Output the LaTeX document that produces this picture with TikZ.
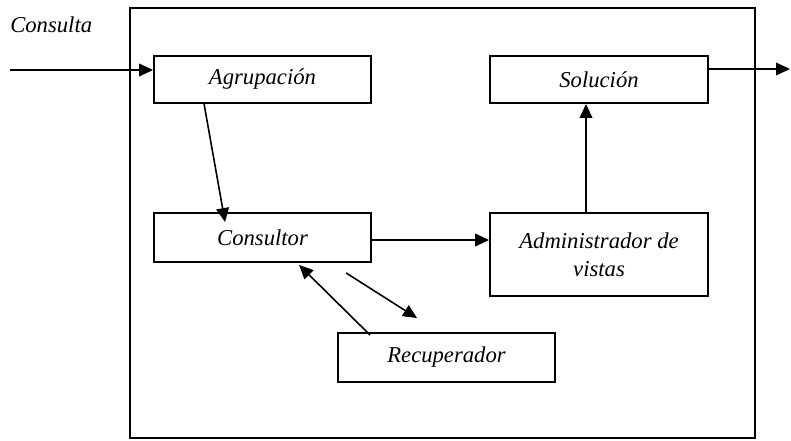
\documentclass[tikz,border=0pt]{standalone}
\usepackage{fontspec}
\setmainfont{Liberation Serif}
\usetikzlibrary{arrows.meta,calc}
\begin{document}
\begin{tikzpicture}[x=0.75pt,y=-0.75pt,
  lbl/.style={font=\fontsize{17}{21}\selectfont\itshape},
  blk/.style={draw,line width=1.4pt,rectangle,inner sep=0pt,align=center,lbl},
  conn/.style={line width=1.2pt,-{Triangle[length=10.5pt,width=9.5pt]}}]
  \useasboundingbox (0,0) rectangle (791,440);
  % system boundary
  \draw[line width=1.3pt] (130,8) rectangle (755,438);
  % components
  \node[blk,minimum width=217*0.75pt,minimum height=47*0.75pt] (agr) at (262.5,79.5) {Agrupación};
  \node[blk,minimum width=218*0.75pt,minimum height=47*0.75pt] (sol) at (599,79.5) {Solución};
  \node[blk,minimum width=217*0.75pt,minimum height=49*0.75pt] (cons) at (262.5,237.5) {Consultor};
  \node[blk,minimum width=218*0.75pt,minimum height=83*0.75pt] (adm) at (599,254.5) {Administrador de\\vistas};
  \node[blk,minimum width=217*0.75pt,minimum height=49*0.75pt] (rec) at (446.5,357.5) {Recuperador};
  % input and output
  \node[lbl,anchor=west,inner sep=0pt] (qlabel) at (10,25) {Consulta};
  \coordinate (in) at (10,70);
  \coordinate (out) at (790,69);
  \draw[conn] (in) -- (in -| agr.west);
  \draw[conn] (sol.east |- out) -- (out);
  % internal flow
  \draw[conn] ($(agr.south west)+(51,0)$) -- ($(cons.north west)+(72,10)$);
  \draw[conn] ($(cons.east)+(0,2.5)$) -- ($(adm.west)+(0,-14.5)$);
  \draw[conn] ($(adm.north)+(-13,0)$) -- ($(sol.south)+(-13,0)$);
  \draw[conn] ($(rec.north west)+(33,3)$) -- ($(cons.south west)+(146,2)$);
  \draw[conn] ($(cons.south west)+(193,10)$) -- ($(rec.north west)+(80,-14)$);
\end{tikzpicture}
\end{document}
